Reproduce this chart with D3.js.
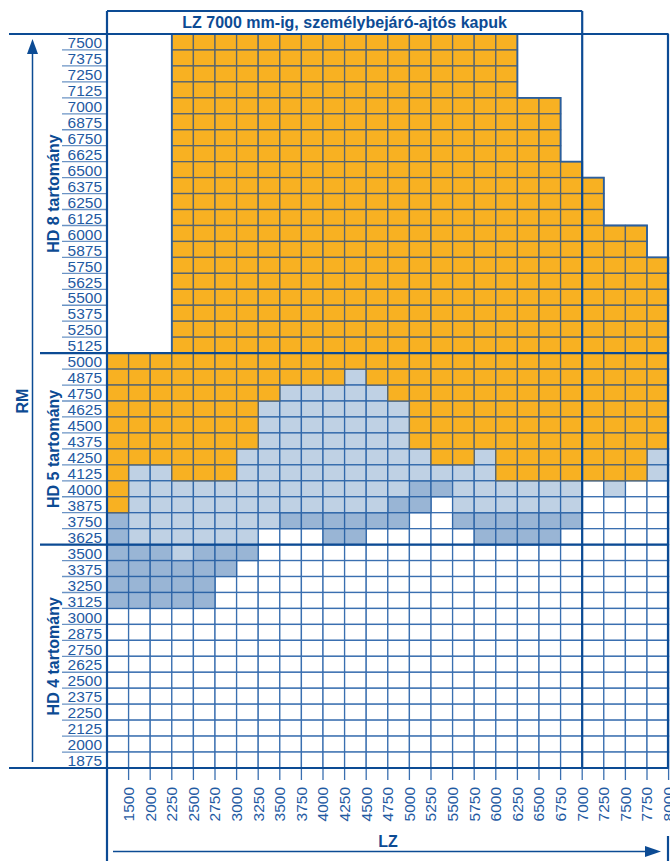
<!DOCTYPE html>
<html>
<head>
<meta charset="utf-8">
<script src="https://cdn.jsdelivr.net/npm/d3@7"></script>
<style>
  html, body { margin: 0; padding: 0; background: #ffffff; }
  svg { display: block; font-family: "Liberation Sans", Arial, Helvetica, sans-serif; }
</style>
</head>
<body>
<svg id="chart" width="670" height="861"></svg>
<script>
// ---------- DATA ----------
const title = "LZ 7000 mm-ig, személybejáró-ajtós kapuk";
const lzLabels = ["1500","2000","2250","2500","2750","3000","3250","3500","3750","4000",
  "4250","4500","4750","5000","5250","5500","5750","6000","6250","6500","6750","7000",
  "7250","7500","7750","8000"];
const rmLabels = [7500,7375,7250,7125,7000,6875,6750,6625,6500,6375,6250,6125,6000,5875,
  5750,5625,5500,5375,5250,5125,5000,4875,4750,4625,4500,4375,4250,4125,4000,3875,3750,
  3625,3500,3375,3250,3125,3000,2875,2750,2625,2500,2375,2250,2125,2000,1875];
// highest RM of the orange (HD 8) area for each LZ column
const orangeTop = [5000,5000,5000,7500,7500,7500,7500,7500,7500,7500,7500,7500,7500,7500,
  7500,7500,7500,7500,7500,7000,7000,6500,6375,6000,6000,5750];
// mixed band: O = orange, L = light blue, M = mid blue, W = white (one char per LZ column)
const bandRM = [5000,4875,4750,4625,4500,4375,4250,4125,4000,3875,3750,3625,3500,3375,3250,3125];
const bandCodes = [
  "OOOOOOOOOOOOOOOOOOOOOOOOOO",
  "OOOOOOOOOOOLOOOOOOOOOOOOOO",
  "OOOOOOOOLLLLLOOOOOOOOOOOOO",
  "OOOOOOOLLLLLLLOOOOOOOOOOOO",
  "OOOOOOOLLLLLLLOOOOOOOOOOOO",
  "OOOOOOOLLLLLLLOOOOOOOOOOOO",
  "OOOOOOLLLLLLLLLOOLOOOOOOOL",
  "OLLOOOLLLLLLLLLLLLOOOOOOOL",
  "OLLLLLLLLLLLLLMMLLLLLLWLWW",
  "OLLLLLLLLLLLLMMWLLLLLLWWWW",
  "MLLLLLLLMMMMMMWWMMMMMMWWWW",
  "MLLLLLLWWWMMWWWWWMMMMWWWWW",
  "MMMLMMMWWWWWWWWWWWWWWWWWWW",
  "MMMMMMWWWWWWWWWWWWWWWWWWWW",
  "MMMMMWWWWWWWWWWWWWWWWWWWWW",
  "MMMMMWWWWWWWWWWWWWWWWWWWWW"
];
const sections = [
  { label: "HD 8 tartomány", from: 7500, to: 5125 },
  { label: "HD 5 tartomány", from: 5000, to: 3625 },
  { label: "HD 4 tartomány", from: 3500, to: 1875 }
];
const yAxisTitle = "RM";
const xAxisTitle = "LZ";

// ---------- STYLE ----------
const colors = { O: "#f8b122", L: "#bfd1e4", M: "#99b5d5", W: "#ffffff" };
const strokeOn = { O: "#56646f", L: "#3168aa", M: "#2d64a6", W: "#3a6fb0" };
const dark = "#0c4b94";
const textBlue = "#1f5aa2";

const svg = d3.select("#chart");
const x = d3.scaleBand().domain(lzLabels).range([107, 668.6]).padding(0);
const y = d3.scaleBand().domain(rmLabels).range([34, 768]).padding(0);
const bw = x.bandwidth(), bh = y.bandwidth();
const xRight = l => x(l) + bw;
const yBottom = r => y(r) + bh;

function code(rm, j) {
  const bi = bandRM.indexOf(rm);
  if (bi >= 0) return bandCodes[bi][j];
  if (rm > 5000) return rm <= orangeTop[j] ? "O" : null;
  return "W";
}

// cells
const cells = [];
rmLabels.forEach(rm => lzLabels.forEach((lz, j) => {
  const c = code(rm, j);
  if (c) cells.push({ rm, lz, c });
}));
const gCells = svg.append("g");
// white first, then colored so colored strokes sit on top
["W", "M", "L", "O"].forEach(k => {
  gCells.selectAll(null).data(cells.filter(d => d.c === k)).enter().append("rect")
    .attr("x", d => x(d.lz)).attr("y", d => y(d.rm))
    .attr("width", bw).attr("height", bh)
    .attr("fill", colors[k])
    .attr("stroke", strokeOn[k]).attr("stroke-width", 1.3);
});

// staircase outline of the orange area above 5000
let p = d3.path();
p.moveTo(x(lzLabels[3]), y(5000));
p.lineTo(x(lzLabels[3]), y(orangeTop[3]));
for (let j = 3; j < lzLabels.length; j++) {
  p.lineTo(xRight(lzLabels[j]), y(orangeTop[j]));
  if (j + 1 < lzLabels.length) p.lineTo(xRight(lzLabels[j]), y(orangeTop[j + 1]));
}
svg.append("path").attr("d", p.toString()).attr("fill", "none")
  .attr("stroke", "#2a5f9f").attr("stroke-width", 1.8);

// row label underline ticks
svg.append("g").selectAll("line").data(rmLabels).enter().append("line")
  .attr("x1", 62).attr("x2", 107)
  .attr("y1", d => yBottom(d)).attr("y2", d => yBottom(d))
  .attr("stroke", "#6b93c4").attr("stroke-width", 1.3);

// row labels
svg.append("g").selectAll("text").data(rmLabels).enter().append("text")
  .attr("x", 102).attr("y", d => yBottom(d) - 1.8)
  .attr("text-anchor", "end").attr("font-size", 15.5)
  .attr("fill", textBlue).text(d => d);

// column ticks below grid
svg.append("g").selectAll("line").data(lzLabels).enter().append("line")
  .attr("x1", d => xRight(d)).attr("x2", d => xRight(d))
  .attr("y1", 768).attr("y2", 780)
  .attr("stroke", "#3a6fb0").attr("stroke-width", 1.3);

// column labels (rotated)
svg.append("g").selectAll("text").data(lzLabels).enter().append("text")
  .attr("transform", d => `translate(${xRight(d)},787) rotate(-90)`)
  .attr("text-anchor", "end").attr("dy", "0.35em")
  .attr("font-size", 15.5).attr("fill", textBlue).text(d => d);

// major lines
const L = (x1, y1, x2, y2, w = 2.2) => svg.append("line")
  .attr("x1", x1).attr("y1", y1).attr("x2", x2).attr("y2", y2)
  .attr("stroke", dark).attr("stroke-width", w);
const xL = x(lzLabels[0]), xR = xRight(lzLabels[lzLabels.length - 1]), x7000 = xRight("7000");
L(9, y(7500), xR, y(7500));
L(40, y(5000), xR, y(5000));
L(40, y(3500), xR, y(3500));
L(9, 768, xR, 768);
L(xL, 11, xL, 861);
L(x7000, 11, x7000, 768);
L(xR - 0.6, y(7500), xR - 0.6, 768);
L(xR - 0.6, 836, xR - 0.6, 861);
L(xL, 11, x7000, 11);

// title
svg.append("text").attr("x", (xL + x7000) / 2).attr("y", 28)
  .attr("text-anchor", "middle").attr("font-size", 16).attr("font-weight", "bold")
  .attr("fill", dark).text(title);

// vertical RM arrow
L(32.5, 52, 32.5, 762, 1.5);
svg.append("path").attr("d", "M32.5,39L27,54L38,54Z").attr("fill", dark);
svg.append("text").attr("transform", `translate(22,${(y(7500) + 768) / 2}) rotate(-90)`)
  .attr("text-anchor", "middle").attr("dy", "0.35em")
  .attr("font-size", 16).attr("font-weight", "bold").attr("fill", dark).text(yAxisTitle);

// section labels
svg.append("g").selectAll("text").data(sections).enter().append("text")
  .attr("transform", d => `translate(53,${(y(d.from) + yBottom(d.to)) / 2}) rotate(-90)`)
  .attr("text-anchor", "middle").attr("dy", "0.35em")
  .attr("font-size", 16).attr("font-weight", "bold").attr("fill", dark).text(d => d.label);

// horizontal LZ arrow
L(113, 851.5, 648, 851.5, 1.5);
svg.append("path").attr("d", "M661,851.5L645,846L645,857Z").attr("fill", dark);
svg.append("text").attr("x", 388).attr("y", 847)
  .attr("text-anchor", "middle").attr("font-size", 16).attr("font-weight", "bold")
  .attr("fill", dark).text(xAxisTitle);
</script>
</body>
</html>
